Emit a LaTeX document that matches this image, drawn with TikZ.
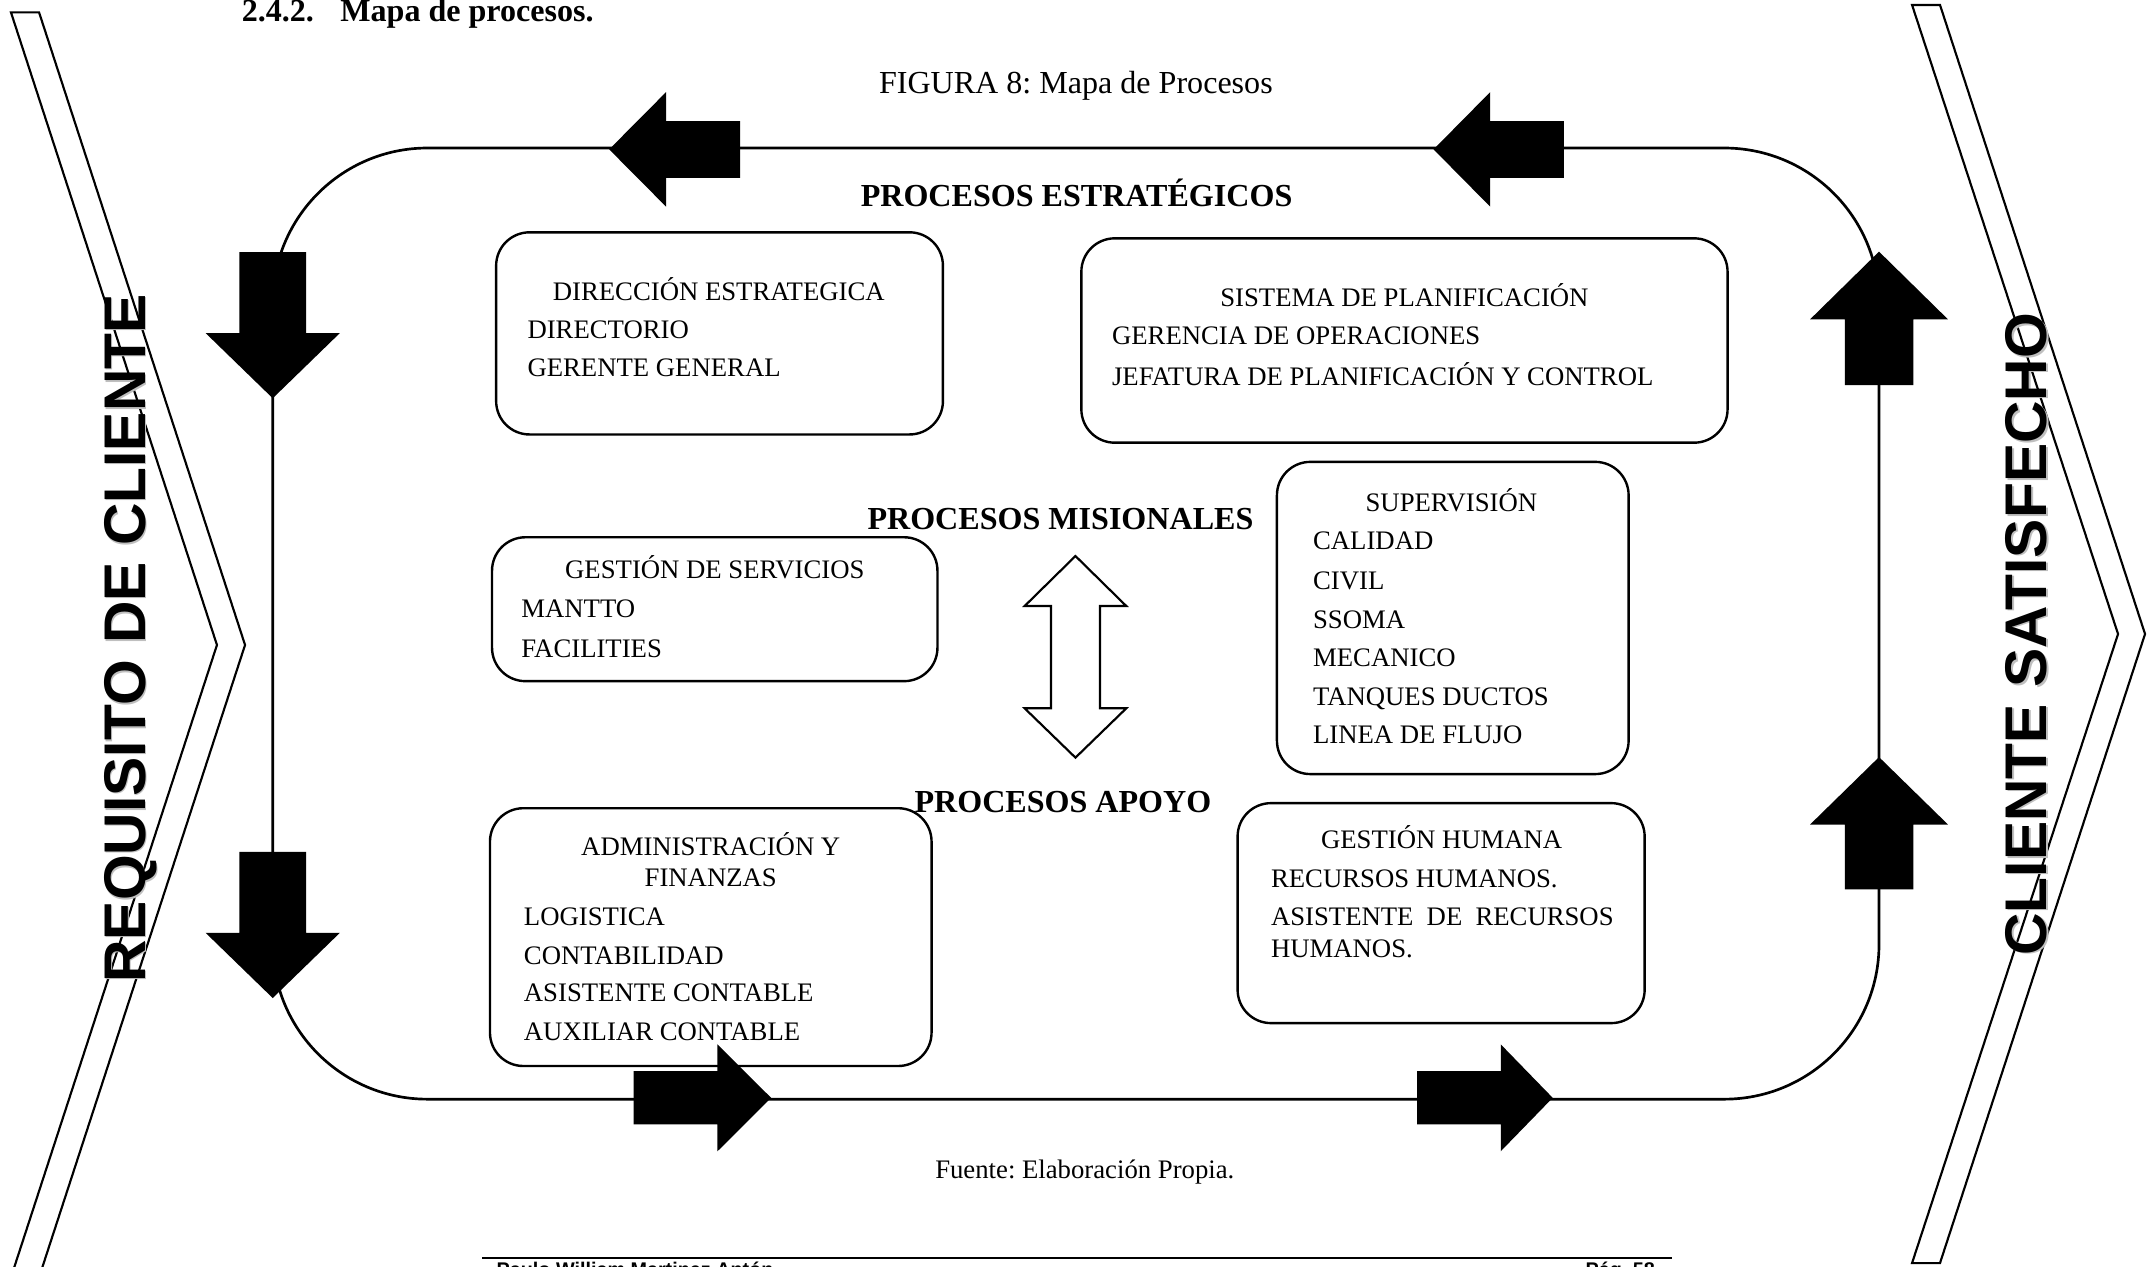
\documentclass[tikz,border=0pt]{standalone}
\usepackage{fontspec}
\setmainfont{Liberation Serif}
\newfontfamily\arialf{Liberation Sans}
\usetikzlibrary{fit}
\frenchspacing
\begin{document}
\begin{tikzpicture}[x=0.5128pt,y=-0.5128pt,
  procbox/.style={draw, line width=0.9pt, rounded corners=12.5pt, inner sep=0pt},
  txt/.style={anchor=base west, inner sep=0pt, font=\fontsize{10}{12}\selectfont},
  ctxt/.style={anchor=base, inner sep=0pt, font=\fontsize{10}{12}\selectfont},
  head/.style={anchor=base west, inner sep=0pt, font=\fontsize{12}{14}\selectfont\bfseries},
  side/.style={rotate=90, anchor=base west, inner sep=0pt, font=\arialf\bfseries\fontsize{22}{26}\selectfont},
  chev/.style={draw, line width=0.8pt, line join=miter},
  blk/.style={fill=black},
]
\useasboundingbox (0,0) rectangle (1568,923.75);

% chevrons
\draw[chev] (8,9) -- (28.5,9) -- (178.8,470.6) -- (28.5,932) -- (8,932) -- (158.3,470.6) -- cycle;
\draw[chev] (1395.1,3.6) -- (1415.5,3.6) -- (1565.1,462.6) -- (1415.5,921.6) -- (1395.1,921.6) -- (1545.4,462.6) -- cycle;

% loop
\node[fit={(199,108) (1371,802)}, draw, inner sep=0pt, line width=1pt, rounded corners=57.9pt] (loop) {};

% boxes
\node[procbox, fit={(362,169.5) (688,317)}] (b1) {};
\node[procbox, fit={(789,173.9) (1260.5,323)}] (b2) {};
\node[procbox, fit={(359,392) (684,497)}] (b3) {};
\node[procbox, fit={(931.7,337) (1188.3,564.8)}] (b4) {};
\node[procbox, fit={(357.5,589.7) (679.7,777.8)}] (b5) {};
\node[procbox, fit={(903,586) (1200,746.5)}] (b6) {};

% double arrow
\draw[line width=0.8pt, fill=white] (784.7,405.7) -- (821.8,442.2) -- (802.6,442.2) -- (802.6,516.8) -- (821.8,516.8) -- (784.7,552.8) -- (747.6,516.8) -- (766.8,516.8) -- (766.8,442.2) -- (747.6,442.2) -- cycle;

% block arrows on the loop
\fill[blk] (444.5,109) -- (486,67.2) -- (486,88.3) -- (540,88.3) -- (540,129.7) -- (486,129.7) -- (486,150.8) -- cycle;
\fill[blk] (1046,109) -- (1087.3,67.2) -- (1087.3,88.3) -- (1141,88.3) -- (1141,129.7) -- (1087.3,129.7) -- (1087.3,150.8) -- cycle;
\fill[blk] (199,290.6) -- (150,243) -- (174.7,243) -- (174.7,184) -- (223.3,184) -- (223.3,243) -- (248,243) -- cycle;
\fill[blk] (199,728.2) -- (150,680.6) -- (174.7,680.6) -- (174.7,621.6) -- (223.3,621.6) -- (223.3,680.6) -- (248,680.6) -- cycle;
\fill[blk] (1371,183.6) -- (1421.3,233) -- (1396,233) -- (1396,281) -- (1346,281) -- (1346,233) -- (1320.7,233) -- cycle;
\fill[blk] (1371,552.4) -- (1421.3,601.6) -- (1396,601.6) -- (1396,649) -- (1346,649) -- (1346,601.6) -- (1320.7,601.6) -- cycle;
\fill[blk] (562.6,801) -- (523.5,840) -- (523.5,820.4) -- (462.4,820.4) -- (462.4,781.6) -- (523.5,781.6) -- (523.5,762) -- cycle;
\fill[blk] (1132.9,801) -- (1095,840) -- (1095,820.4) -- (1034,820.4) -- (1034,781.6) -- (1095,781.6) -- (1095,762) -- cycle;

% titles
\node[anchor=base west, inner sep=0pt, font=\fontsize{12}{14}\selectfont\bfseries] (title) at (176,16) {2.4.2.\hspace{9.9pt}Mapa de procesos.};
\node[anchor=base, inner sep=0pt, font=\fontsize{12}{14}\selectfont] (cap) at (785,68) {FIGURA 8: Mapa de Procesos};
\node[head, anchor=base] (h1) at (785.5,150.7) {PROCESOS ESTRATÉGICOS};
\node[head] (h2) at (632.6,386.2) {PROCESOS MISIONALES};
\node[head] (h3) at (666.9,593) {PROCESOS APOYO};

% box texts
\node[txt] (t11) at (403,219) {DIRECCIÓN ESTRATEGICA};
\node[txt] (t12) at (384.5,247) {DIRECTORIO};
\node[txt] (t13) at (384.5,275) {GERENTE GENERAL};

\node[txt] (t21) at (890,223.8) {SISTEMA DE PLANIFICACIÓN};
\node[txt] (t22) at (811,251.7) {GERENCIA DE OPERACIONES};
\node[txt] (t23) at (811,281) {JEFATURA DE PLANIFICACIÓN Y CONTROL};

\node[txt] (t31) at (412,422.4) {GESTIÓN DE SERVICIOS};
\node[txt] (t32) at (380,450.4) {MANTTO};
\node[txt] (t33) at (380,479.4) {FACILITIES};

\node[txt] (t41) at (996,373.4) {SUPERVISIÓN};
\node[txt] (t42) at (957.7,401.3) {CALIDAD};
\node[txt] (t43) at (957.7,430) {CIVIL};
\node[txt] (t44) at (957.7,458.5) {SSOMA};
\node[txt] (t45) at (957.7,486.5) {MECANICO};
\node[txt] (t46) at (957.7,514.4) {TANQUES DUCTOS};
\node[txt] (t47) at (957.7,542.4) {LINEA DE FLUJO};

\node[ctxt] (t51) at (518.6,623.9) {ADMINISTRACIÓN Y};
\node[ctxt] (t52) at (518.6,646.5) {FINANZAS};
\node[txt] (t53) at (381.9,675) {LOGISTICA};
\node[txt] (t54) at (381.9,703.4) {CONTABILIDAD};
\node[txt] (t55) at (381.9,730.9) {ASISTENTE CONTABLE};
\node[txt] (t56) at (381.9,759.4) {AUXILIAR CONTABLE};

\node[txt] (t61) at (963.5,619.4) {GESTIÓN HUMANA};
\node[txt] (t62) at (927,647.4) {RECURSOS HUMANOS.};
\node[txt] (t63) at (927,675.4) {\makebox[128.2pt][s]{ASISTENTE DE RECURSOS}};
\node[txt] (t64) at (927,698.4) {HUMANOS.};

% source and footer
\node[txt] (src) at (682,859.6) {Fuente: Elaboración Propia.};
\coordinate (fl) at (352,918);
\coordinate (fr) at (1220,918);
\draw[line width=0.9pt] (fl) -- (fr);
\node[anchor=base west, inner sep=0pt, font=\arialf\bfseries\fontsize{7.4}{9}\selectfont] (ft1) at (362,931.7) {Paulo William Martinez Antón};
\node[anchor=base west, inner sep=0pt, font=\arialf\bfseries\fontsize{7.4}{9}\selectfont] (ft2) at (1156.5,931.7) {Pág. 58};

% side labels
\node[side, text=black!25] (l1s) at (106.8,718.3) {REQUISITO DE CLIENTE};
\node[side] (l1) at (105.8,717.3) {REQUISITO DE CLIENTE};
\node[side, text=black!25] (l2s) at (1494.4,698.6) {CLIENTE SATISFECHO};
\node[side] (l2) at (1493.4,697.6) {CLIENTE SATISFECHO};
\end{tikzpicture}
\end{document}
